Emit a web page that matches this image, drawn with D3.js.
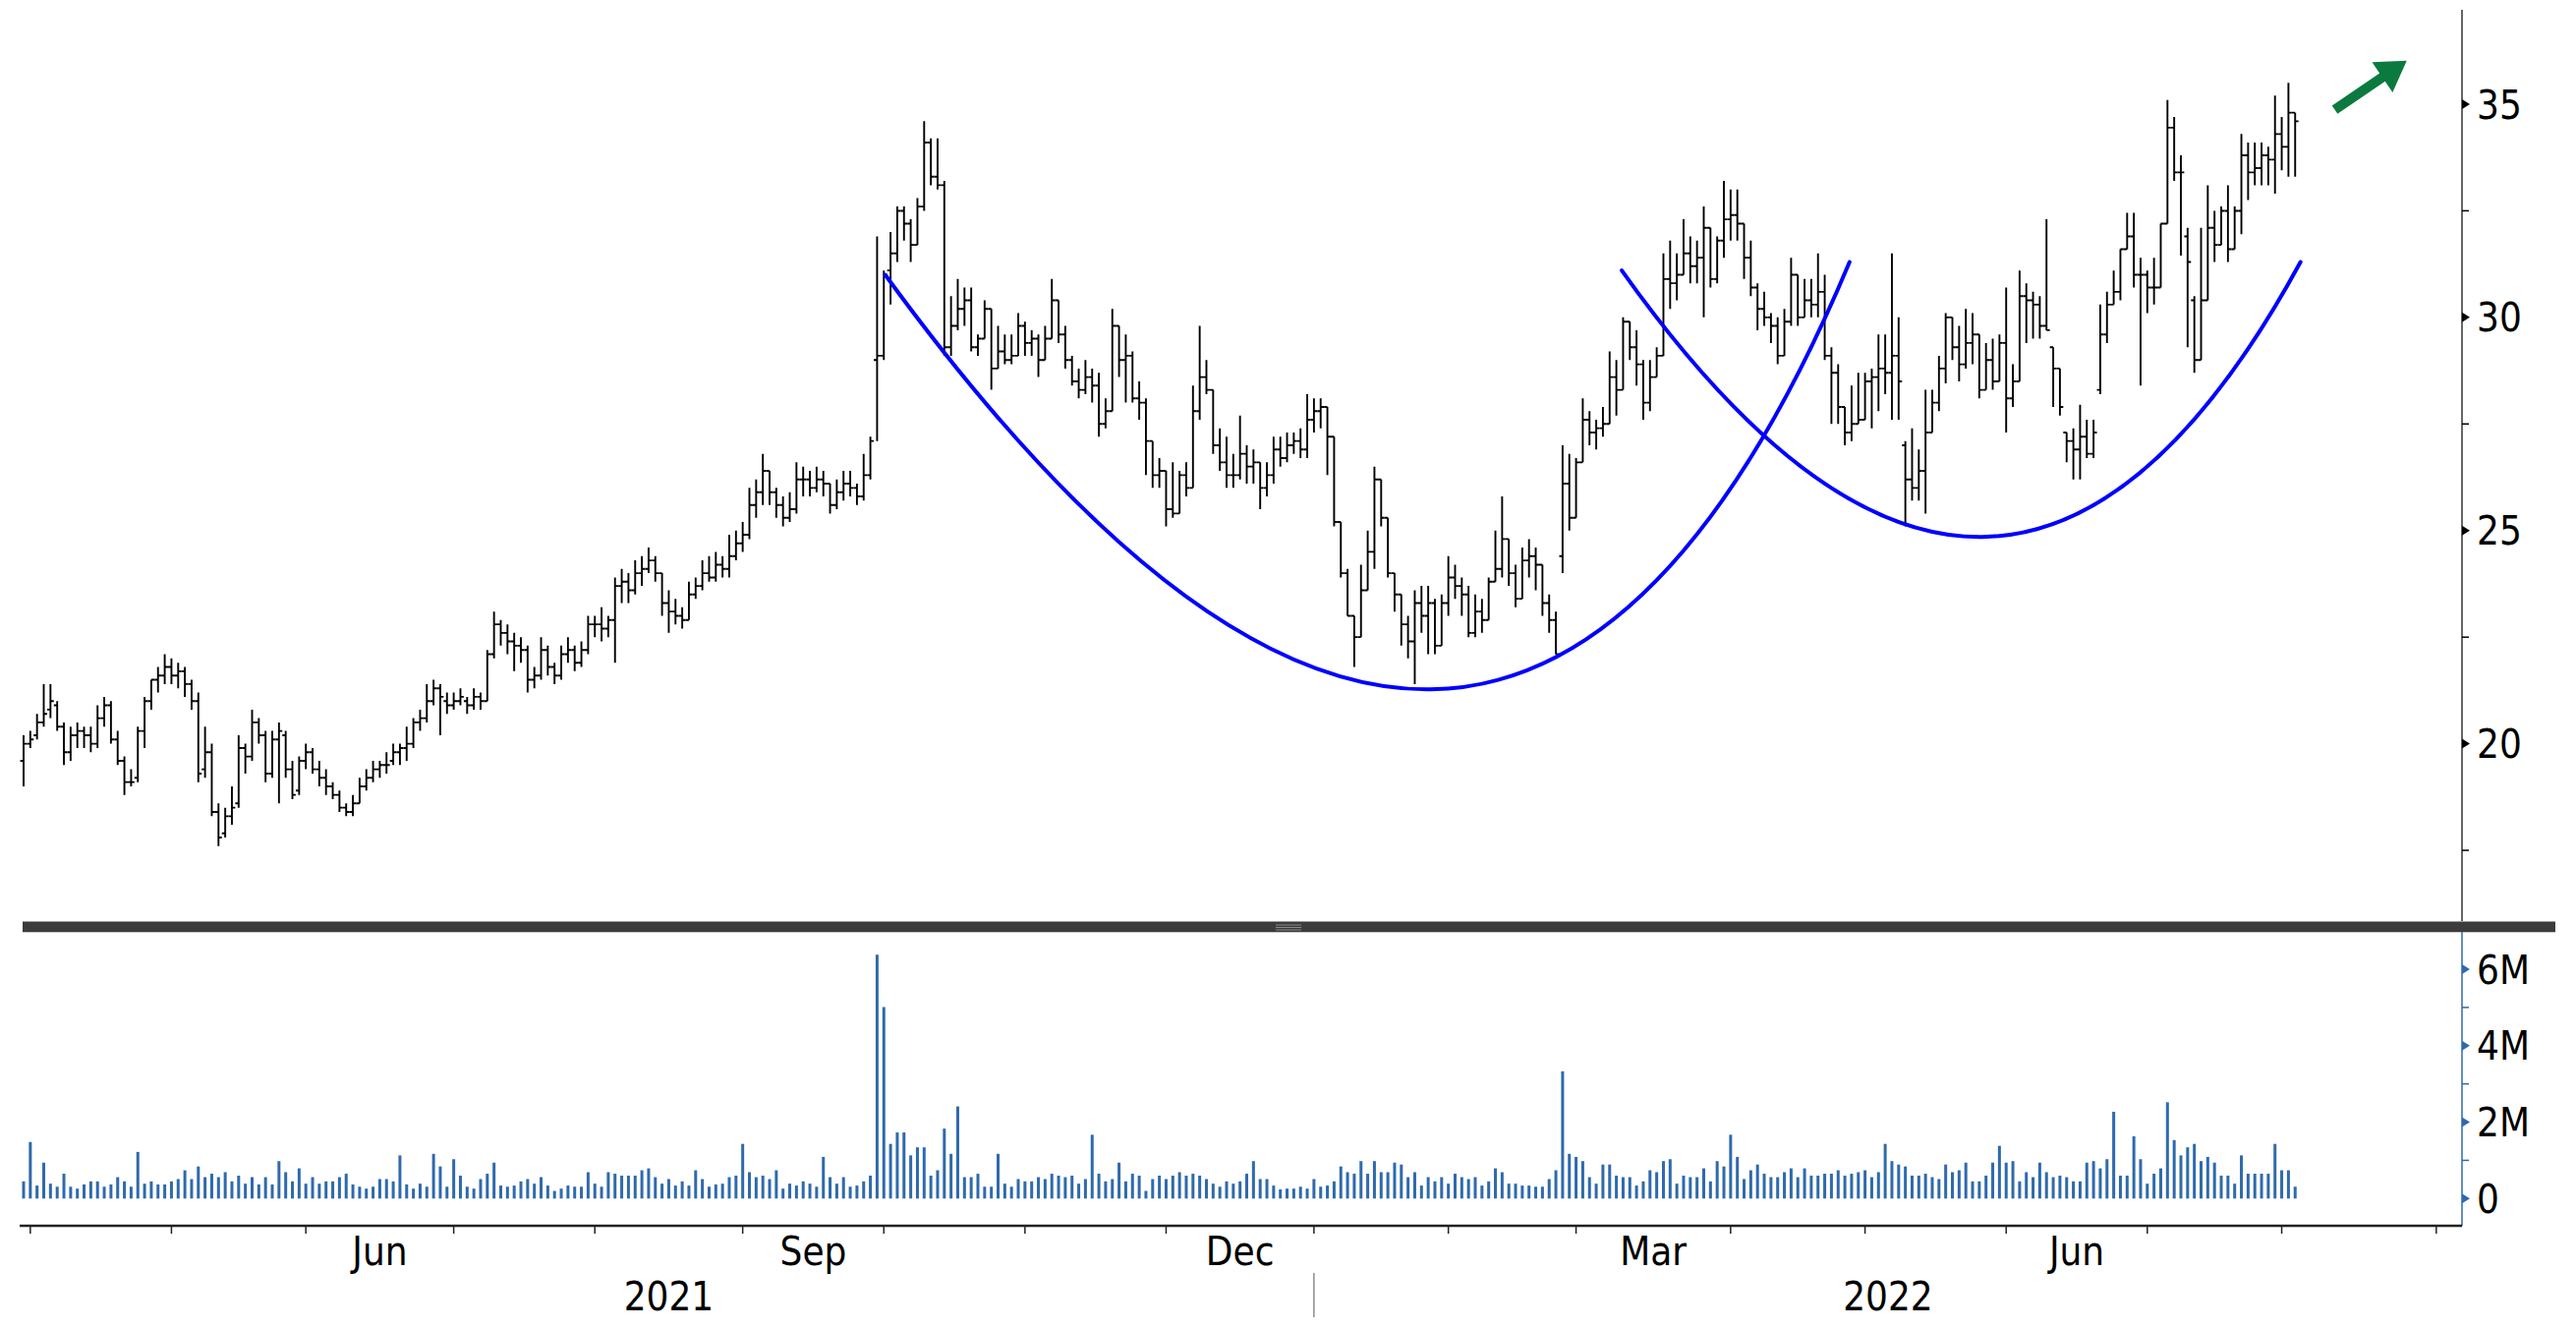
<!DOCTYPE html>
<html>
<head>
<meta charset="utf-8">
<script src="https://cdn.jsdelivr.net/npm/d3@7"></script>
<style>
  body { margin: 0; background: #fff; }
  svg { display: block; }
  text { font-family: "DejaVu Sans Condensed", "DejaVu Sans", sans-serif; font-stretch: condensed; fill: #000; }
</style>
</head>
<body>
<svg id="chart" width="2621" height="1352"></svg>
<script>
// daily bars, first session 2021-03-31
const opens = [
19.6,20.0,20.2,20.5,20.8,20.9,20.4,19.8,20.2,20.3,
20.2,20.0,20.6,20.9,20.1,19.6,19.1,19.2,20.3,21.0,
21.5,21.6,21.8,21.6,21.7,21.4,21.0,19.4,19.8,18.4,
17.9,18.3,18.6,19.9,19.7,20.5,20.2,19.3,20.1,20.2,
19.4,18.9,19.6,19.8,19.4,19.2,19.0,18.8,18.5,18.4,
18.6,19.0,19.2,19.4,19.5,19.6,19.8,19.9,20.0,20.5,
20.6,21.0,21.3,21.0,20.9,21.0,
21.0,20.9,21.1,21.0,22.1,22.8,22.6,22.4,22.3,22.2,
21.5,21.6,22.2,21.8,21.6,22.1,22.2,21.9,22.2,22.8,
22.8,22.7,22.9,23.7,23.8,23.6,24.0,24.1,24.3,24.0,
23.3,23.1,23.0,22.9,23.5,23.7,24.0,23.9,24.2,24.1,
24.4,24.7,24.9,25.6,25.9,26.4,25.9,25.6,25.3,25.5,
26.2,26.2,26.0,26.2,26.1,25.6,25.9,26.1,26.0,25.8,
26.3,
29.0,29.1,31.1,31.5,32.5,32.2,31.7,32.6,34.1,33.3,
33.1,29.3,29.8,30.2,30.4,29.3,29.5,30.2,28.8,29.2,
29.0,29.1,29.8,29.4,29.5,29.0,29.5,30.4,29.6,29.0,
28.5,28.3,28.6,28.4,27.5,27.8,29.8,29.0,29.1,28.1,
28.0,27.1,26.3,26.4,25.5,25.4,26.3,26.0,27.8,28.6,
28.3,27.0,26.6,26.3,26.3,26.8,26.5,26.6,26.0,26.3,
26.9,26.7,27.0,27.1,26.9,27.6,27.8,27.9,27.2,25.2,
24.0,23.0,22.5,23.6,24.5,26.2,25.3,24.0,23.5,22.8,
22.4,23.3,23.0,23.3,22.3,23.3,23.9,23.7,23.5,22.6,
23.1,22.9,23.8,24.1,24.8,24.0,23.4,24.3,24.4,24.2,
23.3,22.9,24.4,26.1,25.3,26.6,27.6,27.3,27.4,27.5,
28.6,28.3,29.9,29.3,28.9,28.0,28.6,29.1,30.9,30.8,
31.0,31.5,31.2,31.4,32.1,30.9,31.8,32.3,32.4,32.2,
31.4,30.7,30.2,30.0,29.8,29.1,29.9,31.0,30.0,30.4,
30.3,30.6,29.1,28.7,27.9,27.3,27.5,27.6,28.5,28.6,
28.8,28.7,29.1,27.0,26.2,26.0,26.4,27.3,28.0,28.8,
30.0,29.3,28.9,29.4,29.6,28.3,29.0,28.5,29.4,28.1,
28.5,30.5,30.4,30.3,29.8,29.3,28.8,27.3,27.1,26.9,
27.2,26.8,28.3,29.6,30.3,30.6,31.6,31.9,31.0,31.0,
30.7,30.7,32.2,34.45,33.4,31.9,30.4,29.0,30.4,32.1,
31.7,32.5,31.6,32.5,33.8,33.4,33.5,33.8,33.7,34.3,
34.0,34.8
];
const highs = [
20.2,20.3,20.7,21.4,21.4,21.0,20.5,20.4,20.5,20.4,
20.4,20.9,21.1,21.0,20.3,19.7,19.4,20.4,21.1,21.5,
21.8,22.1,22.0,21.9,21.8,21.5,21.2,20.4,20.0,18.6,
18.5,19.0,20.2,20.0,20.8,20.6,20.3,20.3,20.5,20.3,
19.6,19.7,20.0,19.9,19.6,19.4,19.1,18.9,18.6,18.8,
19.2,19.4,19.6,19.6,19.8,20.0,20.0,20.4,20.6,20.8,
21.4,21.5,21.4,21.2,21.2,21.3,
21.1,21.3,21.2,22.2,23.1,22.9,22.8,22.6,22.5,22.3,
21.8,22.5,22.3,21.9,22.3,22.5,22.3,22.4,23.0,23.0,
23.2,23.0,23.9,24.1,24.0,24.3,24.4,24.6,24.4,24.0,
23.6,23.4,23.2,23.8,23.9,24.3,24.4,24.5,24.4,24.9,
25.0,25.2,26.0,26.2,26.8,26.4,26.0,25.8,25.9,26.6,
26.5,26.4,26.5,26.4,26.1,26.2,26.4,26.4,26.1,26.8,
27.2,
31.9,31.1,32.0,32.6,32.6,32.3,32.8,34.6,34.2,34.2,
33.2,30.5,30.9,30.7,30.7,29.6,30.4,30.2,29.8,29.6,
29.6,30.1,29.9,29.7,29.6,29.8,30.9,30.4,29.8,29.1,
28.8,29.0,28.8,28.7,28.1,30.2,29.8,29.6,29.2,28.5,
28.1,27.1,26.7,26.4,26.6,26.4,26.6,28.4,29.8,29.0,
28.3,27.4,27.2,26.8,27.7,27.0,26.9,26.6,26.6,27.2,
27.2,27.3,27.3,27.4,28.2,28.1,28.1,27.9,27.2,25.2,
24.1,23.0,24.2,25.0,26.5,26.2,25.3,24.0,23.5,23.0,
23.6,23.7,23.7,23.4,23.5,24.4,24.2,23.9,23.7,23.5,
23.4,23.9,25.0,25.8,24.8,24.2,24.6,24.8,24.6,24.2,
23.5,23.1,27.0,26.8,26.7,28.1,27.8,27.6,27.9,29.2,
29.0,30.0,29.9,29.7,29.0,29.0,29.3,31.5,31.8,31.5,
32.3,31.9,31.8,32.6,32.1,31.9,33.2,33.0,33.0,32.2,
31.8,30.8,30.6,30.1,30.0,30.2,31.4,31.0,30.9,30.9,
31.5,31.0,29.3,28.9,27.9,28.4,28.7,28.7,28.8,29.6,
29.6,31.5,30.0,27.1,27.4,26.9,28.3,28.3,29.1,30.1,
30.0,29.8,30.2,30.1,29.6,29.4,29.5,29.6,30.7,28.9,
31.1,30.8,30.6,30.5,32.3,29.3,28.8,27.3,27.4,27.95,
27.6,27.6,30.3,30.6,31.1,31.6,32.45,32.45,31.4,31.1,
31.4,32.2,35.1,34.7,33.8,32.1,30.5,32.1,33.1,32.5,
32.6,33.1,32.6,34.3,34.1,34.1,34.1,34.0,35.2,34.7,
35.5,34.8
];
const lows = [
19.0,19.9,20.1,20.4,20.6,20.3,19.5,19.6,19.9,19.9,
19.8,19.9,20.4,20.0,19.5,18.8,19.0,19.1,19.9,20.8,
21.2,21.4,21.4,21.3,21.1,20.8,19.1,19.2,18.3,17.6,
17.8,18.1,18.5,19.3,19.6,20.0,19.1,19.2,18.6,19.2,
18.7,18.8,19.4,19.3,19.0,18.8,18.7,18.4,18.3,18.3,
18.6,18.9,19.1,19.2,19.3,19.5,19.5,19.6,19.9,20.3,
20.5,20.9,20.2,20.7,20.8,20.9,
20.7,20.8,20.8,21.0,22.0,22.3,22.1,21.7,21.9,21.2,
21.3,21.5,21.6,21.4,21.5,21.9,21.7,21.8,22.1,22.5,
22.4,22.5,21.9,23.3,23.3,23.5,23.7,24.0,23.8,23.0,
22.6,22.8,22.7,22.9,23.4,23.6,23.8,23.8,23.9,23.9,
24.3,24.5,24.8,25.3,25.6,25.6,25.3,25.1,25.2,25.4,
25.8,25.8,25.9,25.8,25.4,25.5,25.7,25.8,25.6,25.7,
26.2,
27.1,29.0,30.3,31.3,31.8,31.3,31.7,32.5,33.1,33.0,
29.1,29.1,29.7,29.8,29.2,29.1,29.5,28.3,28.8,28.9,
28.9,29.1,29.1,29.1,28.6,29.0,29.5,29.4,28.8,28.4,
28.1,28.2,28.0,27.2,27.4,27.8,28.6,28.0,28.0,27.6,
26.3,26.0,26.0,25.1,25.3,25.4,25.8,26.0,27.6,28.2,
26.8,26.4,26.0,26.0,26.2,26.1,26.1,25.5,25.8,26.1,
26.5,26.6,26.8,26.7,26.7,27.3,27.4,26.3,25.1,23.9,
23.0,21.8,22.5,23.6,24.1,25.1,23.9,23.1,22.3,22.0,
21.4,22.6,22.1,22.1,22.3,23.0,23.4,23.0,22.5,22.5,
22.6,22.9,23.8,23.9,23.7,23.2,23.4,23.9,23.6,23.0,
22.6,22.1,24.0,25.0,25.3,26.6,27.0,26.9,27.2,27.5,
27.7,28.3,29.0,28.4,27.6,27.8,28.6,29.1,30.2,30.4,
31.0,30.8,30.8,30.0,30.7,30.8,31.4,31.8,31.8,30.9,
30.5,29.7,29.8,29.4,28.9,29.1,29.8,29.8,30.0,30.0,
30.0,29.0,27.5,27.5,27.0,27.1,27.5,27.6,27.4,27.8,
28.2,27.6,27.6,25.1,25.7,25.7,25.4,27.3,27.8,28.45,
29.0,28.5,28.8,28.9,28.1,28.3,28.3,28.5,27.3,27.9,
28.5,29.4,29.5,29.5,29.7,27.9,27.7,26.6,26.2,26.2,
26.7,26.7,28.2,29.4,30.3,30.4,31.6,30.7,28.4,30.1,
30.3,30.7,32.2,33.2,31.45,29.3,28.7,29.0,30.4,31.3,
31.7,31.3,31.6,31.95,32.75,33.1,33.1,33.1,32.9,33.45,
33.3,33.3
];
const closes = [
20.0,20.1,20.5,20.7,21.0,20.4,19.8,20.2,20.3,20.2,
20.0,20.6,20.9,20.1,19.6,19.1,19.1,20.3,21.0,21.5,
21.6,21.8,21.6,21.7,21.4,21.0,19.3,19.8,18.4,17.8,
18.3,18.5,19.9,19.7,20.5,20.2,19.3,20.1,20.3,19.4,
18.8,19.6,19.8,19.4,19.2,19.0,18.8,18.5,18.4,18.6,
19.0,19.2,19.4,19.5,19.5,19.8,19.9,20.0,20.5,20.6,
21.0,21.3,21.1,20.9,21.0,21.1,
20.9,21.1,21.0,22.1,22.8,22.6,22.4,22.3,22.2,21.5,
21.6,22.2,21.8,21.6,22.1,22.2,21.9,22.2,22.8,22.8,
22.7,22.9,23.7,23.8,23.6,24.0,24.1,24.3,24.0,23.3,
23.1,23.0,22.9,23.5,23.7,24.0,23.9,24.2,24.1,24.4,
24.7,24.9,25.6,25.9,26.4,25.9,25.6,25.3,25.5,26.2,
26.2,26.0,26.2,26.1,25.6,25.9,26.1,26.0,25.8,26.3,
27.1,
29.1,31.0,31.5,32.5,32.2,31.7,32.6,34.1,33.3,33.1,
29.3,29.8,30.2,30.4,29.3,29.5,30.2,28.8,29.2,29.0,
29.1,29.8,29.4,29.5,29.0,29.5,30.4,29.6,29.0,28.5,
28.3,28.6,28.4,27.5,27.8,29.8,29.0,29.1,28.1,28.0,
27.1,26.3,26.4,25.5,25.4,26.3,26.0,27.8,28.6,28.3,
27.0,26.6,26.3,26.3,26.8,26.5,26.6,26.0,26.3,26.9,
26.7,27.0,27.1,26.9,27.6,27.8,27.9,27.2,25.2,24.0,
23.0,22.5,23.6,24.5,26.2,25.3,24.0,23.5,22.8,22.4,
23.3,23.0,23.3,22.3,23.3,23.9,23.7,23.5,22.6,23.1,
22.9,23.8,24.1,24.8,24.0,23.4,24.3,24.4,24.2,23.3,
22.9,22.1,26.1,25.3,26.6,27.6,27.3,27.4,27.5,28.6,
28.3,29.9,29.3,28.9,28.0,28.6,29.1,30.9,30.8,31.0,
31.5,31.2,31.4,32.1,30.9,31.8,32.3,32.4,32.2,31.4,
30.7,30.2,30.0,29.8,29.1,29.9,31.0,30.0,30.4,30.3,
30.6,29.1,28.7,27.9,27.3,27.5,27.6,28.5,28.6,28.8,
28.7,29.1,28.5,26.2,26.0,26.4,27.3,28.0,28.8,30.0,
29.3,28.9,29.4,29.6,28.3,29.0,28.5,29.4,28.1,28.5,
30.5,30.4,30.3,29.8,29.7,28.8,27.9,27.1,26.9,27.2,
26.8,27.3,29.6,30.3,30.6,31.6,31.9,31.0,31.0,30.7,
30.7,32.2,34.45,33.4,33.4,31.3,29.0,30.4,32.1,31.7,
32.5,31.6,32.5,33.8,33.4,33.5,33.8,33.7,34.3,34.0,
34.8,34.6
];
// volume, millions of shares
const volumes = [
.45,1.48,.34,.94,.39,.31,.65,.31,.26,.37,
.45,.45,.31,.37,.56,.45,.31,1.22,.39,.45,
.37,.37,.45,.51,.74,.51,.84,.56,.65,.56,
.69,.45,.60,.39,.56,.37,.56,.37,.98,.69,
.45,.79,.39,.56,.39,.45,.45,.56,.65,.37,
.31,.26,.31,.51,.51,.45,1.13,.37,.26,.39,
.31,1.17,.84,.31,1.03,.60,.31,.26,.51,.65,
.94,.34,.31,.34,.45,.51,.39,.56,.34,.20,
.26,.34,.31,.31,.69,.39,.31,.69,.65,.60,
.60,.60,.74,.79,.56,.39,.51,.34,.45,.34,
.74,.51,.31,.37,.39,.56,.60,1.43,.69,.56,
.60,.51,.74,.26,.39,.34,.45,.39,.31,1.09,
.56,.39,.56,.31,.34,.45,.60,6.38,5.01,1.43,
1.73,1.73,1.13,1.34,1.34,.60,.74,1.83,1.17,2.41,
.56,.56,.65,.31,.31,1.17,.39,.31,.51,.45,
.45,.56,.51,.65,.60,.56,.60,.39,.51,1.67,
.65,.45,.51,.94,.45,.65,.60,.20,.51,.60,
.51,.60,.69,.60,.65,.60,.51,.39,.31,.45,
.39,.45,.65,.98,.51,.51,.34,
.24,.26,.26,.31,.26,.51,.31,.34,.45,.84,
.69,.65,.98,.65,.98,.69,.69,.94,.89,.56,
.69,.34,.56,.45,.56,.39,.65,.56,.51,.56,
.34,.45,.79,.69,.39,.39,.34,.34,.31,.31,
.51,.74,3.33,1.17,1.09,.98,.56,.39,.89,.89,
.60,.56,.56,.34,.45,.74,.69,.98,1.03,.39,
.60,.56,.56,.79,.45,.98,.84,1.67,1.09,.51,
.74,.89,.65,.56,.56,.69,.79,.56,.79,.60,
.60,.65,.65,.74,.60,.65,.69,.74,.56,
.69,1.43,.98,.89,.84,.60,.60,.65,.56,.51,
.89,.69,.74,.94,.45,.45,.60,.94,1.38,.94,
.98,.45,.69,.56,.94,.69,.56,.60,.56,.45,
.45,.94,.98,.79,1.03,2.27,.60,.60,1.63,1.03,
.39,.65,.79,2.52,1.53,1.13,1.34,1.43,.98,1.09,
.94,.60,.60,.39,1.13,.65,.65,.65,.65,1.43,
.74,.74,.31
];

const holidays = ['2021-04-02','2021-05-31','2021-07-05','2021-09-06','2021-11-25','2021-12-24',
  '2022-01-17','2022-02-21','2022-04-15','2022-05-30','2022-06-20','2022-07-04','2022-09-05'];

const priceTicks = [20, 25, 30, 35];
const priceMinor = [17.5, 22.5, 27.5, 32.5];
const volTicks = [0, 2, 4, 6];
const volMinor = [1, 3, 5];
const labelMonths = [2, 5, 8, 11]; // Mar Jun Sep Dec

// drawn annotations, in (bar index, price)
const cups = [
  {start: [128.2, 31.0], control: [218.8, 11.4], end: [271.7, 31.3]},
  {start: [237.8, 31.1], control: [294.6, 18.5], end: [338.8, 31.3]}
];
const arrowFrom = [343.9, 34.87], arrowTo = [354.6, 36.02];

// trading calendar
const days = [];
for (let d = new Date(Date.UTC(2021, 2, 31)); days.length < 380; d.setUTCDate(d.getUTCDate() + 1)) {
  const wd = d.getUTCDay(), iso = d.toISOString().slice(0, 10);
  if (wd === 0 || wd === 6 || holidays.includes(iso)) continue;
  days.push(new Date(d));
}

const svg = d3.select('#chart');
const left = 20, axisX = 2505;
const step = 6.838, firstX = 24;
const x = d3.scaleLinear().domain([0, closes.length - 1]).range([firstX, firstX + (closes.length - 1) * step]);
const kEnd = x.invert(axisX);
const y = d3.scaleLinear().domain([20, 35]).range([756.6, 106]);
const yv = d3.scaleLinear().domain([0, 6]).range([1219.3, 986]);

const sepTop = 938, sepBot = 948, xAxisY = 1247;

// price axis
svg.append('line').attr('x1', axisX).attr('x2', axisX).attr('y1', 10).attr('y2', sepTop)
  .attr('stroke', '#333').attr('stroke-width', 1.5);
svg.selectAll('.pmaj').data(priceTicks).enter().append('path')
  .attr('d', d => `M${axisX},${y(d) - 5}L${axisX + 8},${y(d)}L${axisX},${y(d) + 5}Z`).attr('fill', '#000');
svg.selectAll('.pmin').data(priceMinor).enter().append('line')
  .attr('x1', axisX).attr('x2', axisX + 7).attr('y1', d => y(d)).attr('y2', d => y(d))
  .attr('stroke', '#000').attr('stroke-width', 1.5);
svg.selectAll('.plab').data(priceTicks).enter().append('text')
  .attr('x', axisX + 15).attr('y', d => y(d) + 14.5).attr('font-size', 40).text(d => d);

// OHLC bars
const bars = d3.range(closes.length);
svg.append('g').selectAll('path').data(bars).enter().append('path')
  .attr('d', i => {
    const cx = x(i);
    const top = Math.max(highs[i], opens[i], closes[i]);
    const bot = Math.min(lows[i], opens[i], closes[i]);
    return `M${cx},${y(top)}V${y(bot)}M${cx - 3.4},${y(opens[i])}H${cx}M${cx},${y(closes[i])}H${cx + 3.4}`;
  })
  .attr('stroke', '#000').attr('stroke-width', 1.9).attr('fill', 'none');

// cup curves
cups.forEach(c => {
  const p = d3.path();
  p.moveTo(x(c.start[0]), y(c.start[1]));
  p.quadraticCurveTo(x(c.control[0]), y(c.control[1]), x(c.end[0]), y(c.end[1]));
  svg.append('path').attr('d', p.toString()).attr('fill', 'none')
    .attr('stroke', '#0000ff').attr('stroke-width', 4).attr('stroke-linecap', 'round');
});

// green arrow
{
  const sx = x(arrowFrom[0]), sy = y(arrowFrom[1]);
  const tx = x(arrowTo[0]), ty = y(arrowTo[1]);
  const len = Math.hypot(tx - sx, ty - sy);
  const ux = (tx - sx) / len, uy = (ty - sy) / len;
  const nx = -uy, ny = ux;
  const hl = 30, hw = 18.5, sw = 5;
  const bx = tx - ux * hl, by = ty - uy * hl;
  const pts = [
    [sx + nx * sw, sy + ny * sw], [bx + nx * sw, by + ny * sw], [bx + nx * hw, by + ny * hw],
    [tx, ty], [bx - nx * hw, by - ny * hw], [bx - nx * sw, by - ny * sw], [sx - nx * sw, sy - ny * sw]
  ];
  svg.append('path').attr('d', 'M' + pts.map(p => p.join(',')).join('L') + 'Z').attr('fill', '#0b7a3e');
}

// panel separator
svg.append('rect').attr('x', 23).attr('y', sepTop).attr('width', 2600 - 23).attr('height', sepBot - sepTop)
  .attr('fill', '#3c3c3c');
svg.append('line').attr('x1', 23).attr('x2', 2600).attr('y1', sepTop - 0.5).attr('y2', sepTop - 0.5)
  .attr('stroke', '#9a9a9a').attr('stroke-width', 1);
svg.append('line').attr('x1', 23).attr('x2', 2600).attr('y1', sepBot + 0.5).attr('y2', sepBot + 0.5)
  .attr('stroke', '#c8c8c8').attr('stroke-width', 1);
[941, 943.5, 946].forEach(gy => svg.append('line').attr('x1', 1298).attr('x2', 1324)
  .attr('y1', gy).attr('y2', gy).attr('stroke', '#8a8a8a').attr('stroke-width', 1));

// volume bars
const volColor = '#2f6aad';
svg.append('g').selectAll('rect').data(bars).enter().append('rect')
  .attr('x', i => x(i) - 1.5).attr('width', 3)
  .attr('y', i => yv(volumes[i])).attr('height', i => yv(0) - yv(volumes[i]))
  .attr('fill', volColor);

// volume axis
svg.append('line').attr('x1', axisX).attr('x2', axisX).attr('y1', sepBot).attr('y2', xAxisY)
  .attr('stroke', volColor).attr('stroke-width', 1.5);
svg.selectAll('.vmaj').data(volTicks).enter().append('path')
  .attr('d', d => `M${axisX},${yv(d) - 5}L${axisX + 8},${yv(d)}L${axisX},${yv(d) + 5}Z`).attr('fill', volColor);
svg.selectAll('.vmin').data(volMinor).enter().append('line')
  .attr('x1', axisX).attr('x2', axisX + 7).attr('y1', d => yv(d)).attr('y2', d => yv(d))
  .attr('stroke', volColor).attr('stroke-width', 1.5);
svg.selectAll('.vlab').data(volTicks).enter().append('text')
  .attr('x', axisX + 15).attr('y', d => yv(d) + 14.5).attr('font-size', 40)
  .text(d => d === 0 ? '0' : d + 'M');

// time axis
svg.append('line').attr('x1', left).attr('x2', axisX).attr('y1', xAxisY).attr('y2', xAxisY)
  .attr('stroke', '#222').attr('stroke-width', 2.5);
const monthStarts = [];
for (let k = 1; k < days.length; k++) {
  if (days[k].getUTCMonth() !== days[k - 1].getUTCMonth()) monthStarts.push(k);
}
svg.selectAll('.mtick').data(monthStarts.filter(k => k <= kEnd)).enter().append('line')
  .attr('x1', k => x(k)).attr('x2', k => x(k)).attr('y1', xAxisY).attr('y2', xAxisY + 8)
  .attr('stroke', '#222').attr('stroke-width', 1.5);
const fmtMonth = d3.utcFormat('%b');
const monthLabels = monthStarts.slice(0, -1)
  .map((k, j) => ({k, next: monthStarts[j + 1]}))
  .filter(m => labelMonths.includes(days[m.k].getUTCMonth()) && m.next <= kEnd);
svg.selectAll('.mlab').data(monthLabels).enter().append('text')
  .attr('x', m => x((m.k + m.next) / 2)).attr('y', 1287).attr('text-anchor', 'middle')
  .attr('font-size', 40).text(m => fmtMonth(days[m.k]));

// years
const yearStart = monthStarts.filter(k => days[k].getUTCMonth() === 0);
const years = [
  {label: '2021', from: 0, to: yearStart[0]},
  {label: '2022', from: yearStart[0], to: kEnd}
];
svg.selectAll('.ylab').data(years).enter().append('text')
  .attr('x', d => x((d.from + d.to) / 2)).attr('y', 1333).attr('text-anchor', 'middle')
  .attr('font-size', 40).text(d => d.label);
svg.append('line').attr('x1', x(yearStart[0])).attr('x2', x(yearStart[0]))
  .attr('y1', 1295).attr('y2', 1340).attr('stroke', '#8c8c8c').attr('stroke-width', 1.5);
</script>
</body>
</html>
